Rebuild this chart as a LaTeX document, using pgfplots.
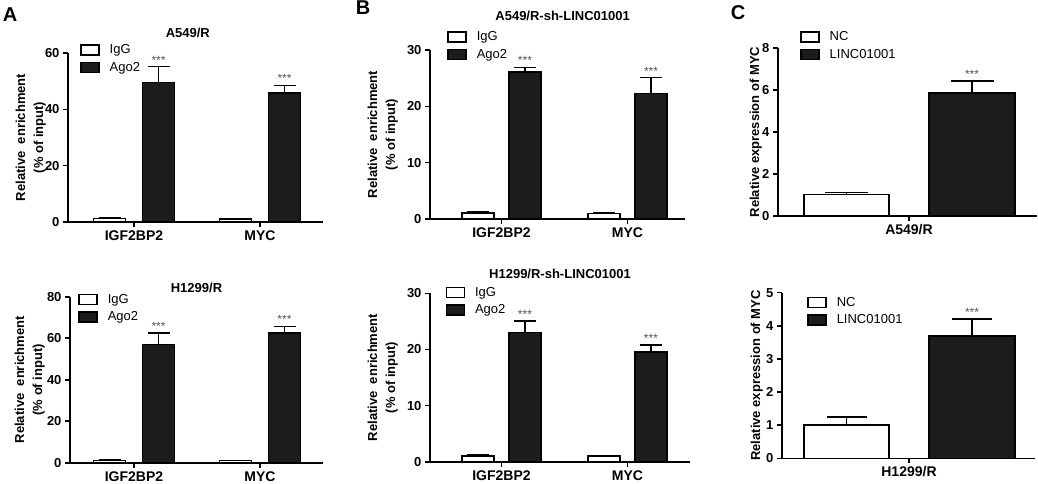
\documentclass[border=0pt]{standalone}
\usepackage{pgfplots}
\pgfplotsset{compat=1.18}
\usepackage{fontspec}
\setmainfont{Liberation Sans}
\definecolor{barblk}{HTML}{1C1C1C}
\definecolor{stargray}{HTML}{555555}

\pgfplotsset{
  panel/.style={
    scale only axis, clip=false,
    axis lines=left, axis line style={-, line width=1.6pt},
    ymin=0, ybar,
    tick align=outside, major tick length=5pt,
    tick style={line width=1.6pt, black},
    tick label style={font=\bfseries\fontsize{13}{13}\selectfont},
    xticklabel style={font=\bfseries\fontsize{14}{14}\selectfont},
    /pgf/number format/assume math mode=true,
    label style={font=\bfseries\fontsize{13}{18}\selectfont},
    title style={font=\bfseries\fontsize{13}{13}\selectfont, anchor=center},
    ylabel style={at={(axis description cs:0,0.5)}, anchor=south, align=center, inner sep=0pt},
    legend style={draw=none, fill=none, inner sep=0pt, anchor=north west,
      font=\fontsize{13}{13}\selectfont, row sep=6pt, column sep=10pt,
      nodes={inner sep=0pt}},
    legend cell align=left,
    error bars/y dir=plus, error bars/y explicit,
    error bars/error bar style={line width=1.6pt, black},
    error bars/error mark options={rotate=90, line width=1.6pt, black, mark size=11pt},
  },
  igg/.style={fill=white, draw=black, line width=1.6pt,
    legend image code/.code={\draw[fill=white, line width=1.5pt] (0pt,-5pt) rectangle (18pt,5pt);}},
  ago/.style={fill=barblk, draw=black, line width=1.6pt,
    legend image code/.code={\draw[fill=barblk, line width=1.5pt] (0pt,-5pt) rectangle (18pt,5pt);}},
}
\tikzset{stars/.style={font=\fontsize{12}{12}\selectfont, text=stargray, anchor=base, yshift=2.5pt, inner sep=0pt}}

\begin{document}
\begin{tikzpicture}
\path[use as bounding box, fill=white] (0pt,0pt) rectangle (1038pt,483pt);

\node[font=\bfseries\fontsize{20}{20}\selectfont] at (10pt,468pt) {A};
\node[font=\bfseries\fontsize{20}{20}\selectfont] at (363pt,475pt) {B};
\node[font=\bfseries\fontsize{20}{20}\selectfont] at (738pt,470pt) {C};

% A top
\begin{axis}[panel, at={(68pt,261pt)}, anchor=south west, width=255pt, height=169pt,
  xmin=-0.524, xmax=1.5, ymax=60, ytick={0,20,40,60},
  xtick={0,1}, xticklabels={IGF2BP2,MYC},
  ylabel={Relative\ \ enrichment\\(\% of input)}, ylabel style={yshift=22pt},
  title={A549/R}, title style={at={(axis description cs:0.47,1)}, yshift=14pt},
  legend style={at={(axis description cs:0.047,1.053)}}]
\addplot[igg, bar shift=-24.5pt, bar width=32pt] coordinates {(0,1.2) +- (0,0.2) (1,1.0) +- (0,0.15)};
\addplot[ago, bar shift=24.5pt, bar width=32pt] coordinates {(0,49.5) +- (0,5.7) (1,45.8) +- (0,2.7)};
\legend{IgG, Ago2}
\node[stars, xshift=24.5pt] at (axis cs:0,55.2) {***};
\node[stars, xshift=24.5pt] at (axis cs:1,48.5) {***};
\end{axis}

% A bottom
\begin{axis}[panel, at={(70pt,20.3pt)}, anchor=south west, width=253pt, height=166pt,
  xmin=-0.508, xmax=1.5, ymax=80, ytick={0,20,40,60,80},
  xtick={0,1}, xticklabels={IGF2BP2,MYC},
  ylabel={Relative\ \ enrichment\\(\% of input)}, ylabel style={yshift=25pt},
  title={H1299/R}, title style={at={(axis description cs:0.5,1)}, yshift=3pt},
  legend style={at={(axis description cs:0.032,1.018)}}]
\addplot[igg, bar shift=-24.5pt, bar width=32pt] coordinates {(0,1.1) +- (0,0.2) (1,1.0) +- (0,0.15)};
\addplot[ago, bar shift=24.5pt, bar width=32pt] coordinates {(0,57.0) +- (0,5.5) (1,62.5) +- (0,3.2)};
\legend{IgG, Ago2}
\node[stars, xshift=24.5pt] at (axis cs:0,62.5) {***};
\node[stars, xshift=24.5pt] at (axis cs:1,65.7) {***};
\end{axis}

% B top
\begin{axis}[panel, at={(430pt,264pt)}, anchor=south west, width=255pt, height=169pt,
  xmin=-0.567, xmax=1.456, ymax=30, ytick={0,10,20,30},
  xtick={0,1}, xticklabels={IGF2BP2,MYC},
  ylabel={Relative\ \ enrichment\\(\% of input)}, ylabel style={yshift=32pt},
  title={A549/R-sh-LINC01001}, title style={at={(axis description cs:0.52,1)}, yshift=28pt},
  legend style={at={(axis description cs:0.067,1.112)}}]
\addplot[igg, bar shift=-23.5pt, bar width=32pt] coordinates {(0,1.1) +- (0,0.15) (1,1.0) +- (0,0.1)};
\addplot[ago, bar shift=23.5pt, bar width=32pt] coordinates {(0,26.1) +- (0,0.8) (1,22.3) +- (0,2.8)};
\legend{IgG, Ago2}
\node[stars, xshift=23.5pt] at (axis cs:0,26.9) {***};
\node[stars, xshift=23.5pt] at (axis cs:1,25.1) {***};
\end{axis}

% B bottom
\begin{axis}[panel, at={(430pt,21.3pt)}, anchor=south west, width=260pt, height=168.3pt,
  xmin=-0.567, xmax=1.496, ymax=30, ytick={0,10,20,30},
  xtick={0,1}, xticklabels={IGF2BP2,MYC},
  ylabel={Relative\ \ enrichment\\(\% of input)}, ylabel style={yshift=32pt},
  title={H1299/R-sh-LINC01001}, title style={at={(axis description cs:0.5,1)}, yshift=13pt},
  legend style={at={(axis description cs:0.059,1.041)}}]
\addplot[igg, bar shift=-23.5pt, bar width=32pt] coordinates {(0,1.0) +- (0,0.15) (1,1.0) +- (0,0.1)};
\addplot[ago, bar shift=23.5pt, bar width=32pt] coordinates {(0,23.0) +- (0,2.1) (1,19.6) +- (0,1.2)};
\legend{IgG, Ago2}
\node[stars, xshift=23.5pt] at (axis cs:0,25.1) {***};
\node[stars, xshift=23.5pt] at (axis cs:1,20.8) {***};
\end{axis}

% C top
\begin{axis}[panel, at={(778pt,267pt)}, anchor=south west, width=259pt, height=168pt,
  xmin=-131, xmax=128, ymax=8, ytick={0,2,4,6,8},
  xtick={0}, xticklabels={A549/R},
  ylabel={Relative expression of MYC}, ylabel style={yshift=16pt},
  error bars/error mark options={rotate=90, line width=1.6pt, black, mark size=21.5pt},
  legend style={at={(axis description cs:0.085,1.101)}}]
\addplot[igg, bar shift=-62.5pt, bar width=85pt] coordinates {(0,1.03) +- (0,0.08)};
\addplot[ago, bar shift=63pt, bar width=86pt] coordinates {(0,5.87) +- (0,0.56)};
\legend{NC, LINC01001}
\node[stars, xshift=63pt] at (axis cs:0,6.43) {***};
\end{axis}

% C bottom
\begin{axis}[panel, at={(782pt,24.7pt)}, anchor=south west, width=253pt, height=165.7pt,
  xmin=-127, xmax=126, ymax=5, ytick={0,1,2,3,4,5},
  xtick={0}, xticklabels={H1299/R},
  ylabel={Relative expression of MYC}, ylabel style={yshift=19pt},
  error bars/error mark options={rotate=90, line width=1.6pt, black, mark size=20pt},
  legend style={at={(axis description cs:0.099,0.976)}}]
\addplot[igg, bar shift=-62.5pt, bar width=85pt] coordinates {(0,1.0) +- (0,0.24)};
\addplot[ago, bar shift=63pt, bar width=86pt] coordinates {(0,3.69) +- (0,0.51)};
\legend{NC, LINC01001}
\node[stars, xshift=63pt] at (axis cs:0,4.20) {***};
\end{axis}
\end{tikzpicture}
\end{document}
